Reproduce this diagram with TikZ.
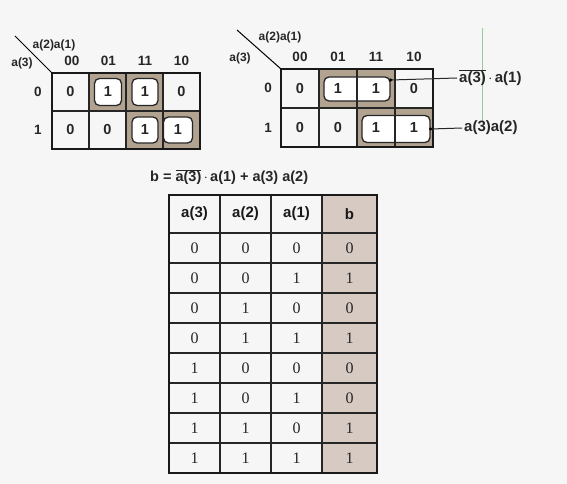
\documentclass[tikz,border=0pt]{standalone}
\usepackage{fontspec}
\setmainfont{Liberation Sans}
\newfontfamily\tabdigits{Liberation Serif}
\definecolor{kshade}{RGB}{178,162,144}
\definecolor{tshade}{RGB}{214,202,194}
\definecolor{pagebg}{RGB}{246,246,246}
\definecolor{scanline}{RGB}{150,205,150}
\begin{document}
\begin{tikzpicture}[x=1pt,y=-1pt,
  grid/.style={line width=1.1pt, draw=black!85},
  frame/.style={line width=1.9pt, draw=black!90},
  kloop/.style={draw=black!85, line width=1.3pt, rounded corners=5pt, fill=white, inner sep=0pt},
  cellv/.style={font=\fontsize{14.5}{15}\selectfont\bfseries, text=black!85, inner sep=0pt},
  hdr/.style={font=\fontsize{13.5}{14}\selectfont\bfseries, text=black!85, inner sep=0pt},
  varlbl/.style={font=\fontsize{12}{13}\selectfont\bfseries, text=black!85, inner sep=0pt},
  taglbl/.style={font=\fontsize{15}{15}\selectfont\bfseries, text=black!85, inner sep=0pt},
  eqlbl/.style={font=\fontsize{14.5}{15}\selectfont\bfseries, text=black!85, inner sep=0pt},
  tabhdr/.style={font=\fontsize{15}{15}\selectfont\bfseries, text=black!90, inner sep=0pt},
  tabcell/.style={font=\tabdigits\fontsize{16}{16}\selectfont, text=black!85, inner sep=0pt},
  tag/.style={line width=1pt, draw=black!85}
]
\useasboundingbox (0,0) rectangle (567,484);
\fill[pagebg] (0,0) rectangle (567,484);
\draw[scanline, line width=0.8pt] (482,28) -- (482,122);

% ---------- left K-map ----------
\fill[kshade] (89,73) rectangle (163,111);
\fill[kshade] (126,111) rectangle (200,149);
\draw[grid] (89,73) -- (89,149) (126,73) -- (126,149) (163,73) -- (163,149) (52,111) -- (200,111);
\draw[frame] (52,73) rectangle (200,149);
\draw[line width=1pt] (15,36) -- (52,73);
\node[varlbl] (La21) at (54,45) {a(2)a(1)};
\node[varlbl] (La3) at (22,63) {a(3)};
\foreach \t [count=\i from 0] in {00,01,11,10}
  \node[hdr] (Lh\i) at (72+36.5*\i,61) {\t};
\node[hdr] (Lr0) at (38,92) {0};
\node[hdr] (Lr1) at (38,130) {1};
\node[cellv] (L00) at (70.5,92) {0};
\node[kloop, cellv, minimum width=27pt, minimum height=27pt] (L01) at (108,92) {1};
\node[kloop, cellv, minimum width=26pt, minimum height=27pt] (L02) at (145,92) {1};
\node[cellv] (L03) at (181.5,92) {0};
\node[cellv] (L10) at (70.5,130) {0};
\node[cellv] (L11) at (107.5,130) {0};
\node[kloop, cellv, minimum width=26pt, minimum height=26pt] (L12) at (145,130) {1};
\node[kloop, cellv, minimum width=29pt, minimum height=26pt] (L13) at (178,130) {1};

% ---------- right K-map ----------
\fill[kshade] (319,69) rectangle (395,108);
\fill[kshade] (357,108) rectangle (433,147);
\node[kloop, minimum width=66pt, minimum height=24pt] (RA) at (357,89) {};
\node[kloop, minimum width=68pt, minimum height=27pt] (RB) at (396,129) {};
\draw[grid] (319,69) -- (319,147) (357,69) -- (357,147) (395,69) -- (395,147) (281,108) -- (433,108);
\draw[frame] (281,69) rectangle (433,147);
\draw[line width=1pt] (237,30) -- (281,69);
\node[varlbl] (Ra21) at (280,37) {a(2)a(1)};
\node[varlbl] (Ra3) at (240,58) {a(3)};
\foreach \t [count=\i from 0] in {00,01,11,10}
  \node[hdr] (Rh\i) at (300+38*\i,57) {\t};
\node[hdr] (Rr0) at (268,88) {0};
\node[hdr] (Rr1) at (268,128) {1};
\foreach \v [count=\i from 0] in {0,1,1,0}
  \node[cellv] (R0\i) at (300+38*\i,88.5) {\v};
\foreach \v [count=\i from 0] in {0,0,1,1}
  \node[cellv] (R1\i) at (300+38*\i,127.5) {\v};
\node[taglbl, anchor=west] (tagA) at (459,78) {$\overline{\mbox{a(3)}}$\,$\cdot$\,a(1)};
\node[taglbl, anchor=west] (tagB) at (464,128) {a(3)a(2)};
\coordinate (tA) at ([yshift=9pt]RA.east);
\draw[tag] (tA) -- ([xshift=-2pt]tagA.west);
\fill (tA) circle (1.7pt);
\draw[tag] (RB.east) -- ([xshift=-2pt]tagB.west);
\fill (RB.east) circle (1.7pt);

% ---------- formula ----------
\node[eqlbl, anchor=west] (eq) at (150,177) {b = $\overline{\mbox{a(3)}}$\,$\cdot$\,a(1) + a(3) a(2)};

% ---------- truth table ----------
\fill[tshade] (322,195) rectangle (377,473);
\foreach \y in {233,263,293,323,353,383,413,443}
  \draw[grid] (169,\y) -- (377,\y);
\draw[grid] (220,195) -- (220,473) (271,195) -- (271,473) (322,195) -- (322,473);
\draw[frame] (169,195) rectangle (377,473);
\foreach \t/\x [count=\i from 0] in {a(3)/194.5,a(2)/245.5,a(1)/296.5,b/349.5}
  \node[tabhdr] (H\i) at (\x,214) {\t};
\foreach \a/\b/\c/\d [count=\r from 0] in {0/0/0/0,0/0/1/1,0/1/0/0,0/1/1/1,1/0/0/0,1/0/1/0,1/1/0/1,1/1/1/1}{
  \node[tabcell] (T\r a) at (194.5,248+30*\r) {\a};
  \node[tabcell] (T\r b) at (245.5,248+30*\r) {\b};
  \node[tabcell] (T\r c) at (296.5,248+30*\r) {\c};
  \node[tabcell] (T\r d) at (349.5,248+30*\r) {\d};
}
\end{tikzpicture}
\end{document}
